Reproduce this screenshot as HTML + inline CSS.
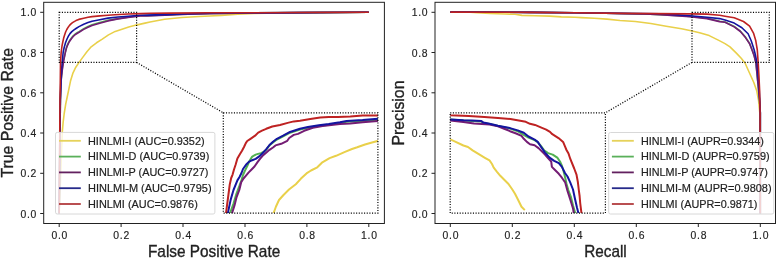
<!DOCTYPE html>
<html><head><meta charset="utf-8"><style>
html,body{margin:0;padding:0;background:#fff;width:778px;height:260px;overflow:hidden}
svg{display:block;will-change:transform}
text{font-family:"Liberation Sans", sans-serif;fill:#222}
</style></head><body>
<svg width="778" height="260" viewBox="0 0 778 260">
<rect width="778" height="260" fill="#fff"/>
<defs>
<clipPath id="cL"><rect x="43.7" y="2.3" width="340.7" height="221.2"/></clipPath>
<clipPath id="cR"><rect x="435" y="2.3" width="340.5" height="221.2"/></clipPath>
<clipPath id="ciL"><rect x="223.3" y="112.8" width="154.6" height="100.3"/></clipPath>
<clipPath id="ciR"><rect x="450.2" y="112.8" width="155.2" height="100.3"/></clipPath>
</defs>

<g clip-path="url(#cL)">
<path d="M59.2 213.5 L59.7 200.0 L60.2 188.0 L60.8 172.0 L61.5 152.0 L62.0 140.0 L62.3 131.9 L63.1 122.7 L64.2 113.5 L65.7 104.2 L67.2 97.0 L68.9 88.8 L70.5 81.1 L72.8 73.4 L75.8 67.2 L78.9 62.6 L83.1 56.9 L87.1 51.5 L91.2 46.8 L96.5 42.8 L101.9 39.4 L108.5 34.9 L115.2 31.4 L122.0 29.2 L128.7 27.1 L136.1 25.1 L145.0 23.1 L150.0 22.0 L164.6 19.2 L182.0 17.5 L199.3 16.5 L210.0 16.0 L221.4 15.4 L237.8 14.3 L254.2 13.5 L280.0 13.0 L320.0 12.6 L368.8 12.3" fill="none" stroke="#E9D04A" stroke-width="1.60" stroke-linejoin="round" stroke-linecap="butt" />
<path d="M59.2 213.5 L59.5 180.0 L59.9 140.0 L60.4 100.0 L61.1 80.0 L62.1 70.0 L63.2 61.8 L64.6 55.8 L65.4 51.8 L66.4 47.8 L67.5 44.7 L69.3 41.0 L71.4 38.0 L73.2 35.8 L75.2 34.0 L77.0 32.8 L79.1 31.6 L83.7 28.7 L88.0 26.5 L92.0 24.8 L99.7 22.5 L108.0 20.4 L118.0 18.6 L128.0 17.2 L140.0 15.8 L147.0 15.6 L165.0 14.9 L188.0 14.0 L210.0 13.4 L250.0 12.9 L300.0 12.6 L368.8 12.3" fill="none" stroke="#52B152" stroke-width="1.60" stroke-linejoin="round" stroke-linecap="butt" />
<path d="M59.2 213.5 L59.5 180.0 L59.9 140.0 L60.4 100.0 L61.2 80.0 L62.3 70.0 L63.5 61.8 L64.6 56.1 L65.4 52.2 L66.4 48.3 L67.5 45.3 L69.3 41.7 L71.4 38.7 L73.2 36.5 L75.2 34.7 L77.0 33.5 L79.1 32.3 L83.7 29.4 L88.0 27.2 L92.0 25.5 L99.7 23.2 L108.0 20.9 L118.0 18.9 L128.0 17.4 L140.0 16.0 L147.0 15.9 L165.0 15.2 L188.0 14.2 L210.0 13.6 L250.0 13.0 L300.0 12.6 L368.8 12.3" fill="none" stroke="#741C74" stroke-width="1.60" stroke-linejoin="round" stroke-linecap="butt" />
<path d="M59.2 213.5 L59.5 180.0 L59.8 140.0 L60.3 100.0 L60.9 80.0 L61.6 70.0 L62.2 61.8 L63.2 52.0 L64.3 47.0 L65.6 42.5 L67.0 39.0 L68.4 36.2 L70.0 33.6 L71.8 31.6 L74.0 29.8 L76.0 28.5 L79.0 26.6 L83.7 24.3 L88.0 22.6 L92.0 21.2 L99.7 19.7 L108.0 18.1 L118.0 17.0 L128.0 16.2 L140.0 15.3 L147.0 15.1 L165.0 14.6 L188.0 13.8 L210.0 13.3 L250.0 12.9 L300.0 12.6 L368.8 12.3" fill="none" stroke="#1414A0" stroke-width="1.60" stroke-linejoin="round" stroke-linecap="butt" />
<path d="M59.2 213.5 L59.4 180.0 L59.7 140.0 L60.0 100.0 L60.3 80.0 L60.5 62.0 L61.2 52.0 L62.0 46.0 L62.8 42.0 L63.6 38.3 L64.6 35.0 L65.6 32.0 L66.8 29.5 L68.2 27.2 L69.5 25.4 L71.0 23.9 L72.5 22.7 L74.2 21.6 L76.0 20.6 L78.8 19.4 L83.7 18.2 L88.0 17.3 L92.0 16.6 L100.0 15.9 L108.0 15.2 L115.0 14.7 L128.0 14.0 L140.0 13.6 L150.0 13.3 L170.0 13.1 L210.0 12.8 L250.0 12.7 L300.0 12.5 L368.8 12.3" fill="none" stroke="#BE2222" stroke-width="1.60" stroke-linejoin="round" stroke-linecap="butt" />
</g>
<rect x="43.7" y="2.3" width="340.7" height="221.2" fill="none" stroke="#222" stroke-width="1"/>
<line x1="40.2" y1="12.3" x2="43.7" y2="12.3" stroke="#222" stroke-width="1"/>
<text x="37.1" y="16.4" font-size="10.4" text-anchor="end" letter-spacing="0.75" stroke="#222" stroke-width="0.15">1.0</text>
<line x1="40.2" y1="52.5" x2="43.7" y2="52.5" stroke="#222" stroke-width="1"/>
<text x="37.1" y="56.6" font-size="10.4" text-anchor="end" letter-spacing="0.75" stroke="#222" stroke-width="0.15">0.8</text>
<line x1="40.2" y1="92.8" x2="43.7" y2="92.8" stroke="#222" stroke-width="1"/>
<text x="37.1" y="96.9" font-size="10.4" text-anchor="end" letter-spacing="0.75" stroke="#222" stroke-width="0.15">0.6</text>
<line x1="40.2" y1="133.0" x2="43.7" y2="133.0" stroke="#222" stroke-width="1"/>
<text x="37.1" y="137.1" font-size="10.4" text-anchor="end" letter-spacing="0.75" stroke="#222" stroke-width="0.15">0.4</text>
<line x1="40.2" y1="173.3" x2="43.7" y2="173.3" stroke="#222" stroke-width="1"/>
<text x="37.1" y="177.4" font-size="10.4" text-anchor="end" letter-spacing="0.75" stroke="#222" stroke-width="0.15">0.2</text>
<line x1="40.2" y1="213.5" x2="43.7" y2="213.5" stroke="#222" stroke-width="1"/>
<text x="37.1" y="217.6" font-size="10.4" text-anchor="end" letter-spacing="0.75" stroke="#222" stroke-width="0.15">0.0</text>
<line x1="59.2" y1="223.5" x2="59.2" y2="227" stroke="#222" stroke-width="1"/>
<text x="59.8" y="239.2" font-size="10.4" text-anchor="middle" letter-spacing="0.75" stroke="#222" stroke-width="0.15">0.0</text>
<line x1="121.1" y1="223.5" x2="121.1" y2="227" stroke="#222" stroke-width="1"/>
<text x="121.7" y="239.2" font-size="10.4" text-anchor="middle" letter-spacing="0.75" stroke="#222" stroke-width="0.15">0.2</text>
<line x1="183.0" y1="223.5" x2="183.0" y2="227" stroke="#222" stroke-width="1"/>
<text x="183.6" y="239.2" font-size="10.4" text-anchor="middle" letter-spacing="0.75" stroke="#222" stroke-width="0.15">0.4</text>
<line x1="245.0" y1="223.5" x2="245.0" y2="227" stroke="#222" stroke-width="1"/>
<text x="245.6" y="239.2" font-size="10.4" text-anchor="middle" letter-spacing="0.75" stroke="#222" stroke-width="0.15">0.6</text>
<line x1="306.9" y1="223.5" x2="306.9" y2="227" stroke="#222" stroke-width="1"/>
<text x="307.5" y="239.2" font-size="10.4" text-anchor="middle" letter-spacing="0.75" stroke="#222" stroke-width="0.15">0.8</text>
<line x1="368.8" y1="223.5" x2="368.8" y2="227" stroke="#222" stroke-width="1"/>
<text x="369.4" y="239.2" font-size="10.4" text-anchor="middle" letter-spacing="0.75" stroke="#222" stroke-width="0.15">1.0</text>
<g clip-path="url(#cR)">
<path d="M450.3 12.2 L470.0 12.3 L477.0 12.6 L490.0 13.5 L505.0 14.0 L515.0 14.3 L521.9 15.4 L535.0 15.8 L549.7 16.1 L561.3 16.9 L575.0 17.3 L581.4 17.6 L594.3 18.2 L607.1 19.1 L620.0 20.5 L635.4 21.5 L650.8 23.5 L666.2 26.2 L681.5 28.8 L691.0 30.8 L699.6 32.7 L709.2 35.6 L718.8 40.4 L725.0 43.6 L730.0 46.9 L736.6 53.4 L741.0 58.0 L745.0 63.0 L749.5 73.0 L753.8 82.5 L756.8 91.0 L758.5 100.0 L759.8 112.9 L760.2 213.5" fill="none" stroke="#E9D04A" stroke-width="1.60" stroke-linejoin="round" stroke-linecap="butt" />
<path d="M450.3 12.1 L530.0 12.4 L575.0 12.8 L620.0 13.5 L645.0 13.9 L660.0 14.6 L675.0 15.4 L690.0 16.4 L707.0 18.3 L719.6 21.2 L725.0 22.0 L734.2 26.5 L740.4 31.2 L745.0 36.5 L749.6 43.4 L752.2 50.0 L754.0 55.0 L756.0 63.0 L758.2 86.0 L759.5 100.0 L760.3 112.9 L760.3 213.5" fill="none" stroke="#52B152" stroke-width="1.60" stroke-linejoin="round" stroke-linecap="butt" />
<path d="M450.3 12.1 L530.0 12.4 L575.0 12.8 L620.0 13.5 L645.0 14.0 L660.0 14.8 L675.0 15.6 L690.0 16.7 L707.0 18.6 L719.6 21.6 L725.0 22.3 L734.2 26.9 L740.4 31.5 L745.0 36.9 L749.6 43.8 L752.2 50.5 L754.2 56.0 L755.9 63.1 L758.2 86.0 L759.5 100.0 L760.3 112.9 L760.3 213.5" fill="none" stroke="#741C74" stroke-width="1.60" stroke-linejoin="round" stroke-linecap="butt" />
<path d="M450.3 12.1 L530.0 12.4 L575.0 12.8 L620.0 13.4 L660.0 13.8 L675.0 14.6 L690.0 15.8 L707.0 17.2 L719.6 18.6 L725.0 20.0 L734.2 23.1 L741.9 27.7 L748.1 33.8 L751.2 40.8 L754.2 50.0 L755.4 55.0 L757.1 63.7 L758.5 81.0 L759.2 89.7 L760.0 105.0 L760.3 112.9 L760.3 213.5" fill="none" stroke="#1414A0" stroke-width="1.60" stroke-linejoin="round" stroke-linecap="butt" />
<path d="M450.3 12.1 L530.0 12.4 L575.0 12.8 L620.0 13.4 L690.0 13.9 L707.0 14.1 L719.6 15.2 L725.0 16.2 L734.2 17.7 L743.5 21.5 L749.6 26.2 L753.5 33.1 L755.8 40.8 L757.3 50.0 L758.2 63.1 L758.9 75.0 L759.6 90.0 L760.1 113.0 L760.3 213.5" fill="none" stroke="#BE2222" stroke-width="1.60" stroke-linejoin="round" stroke-linecap="butt" />
</g>
<rect x="435.0" y="2.3" width="340.5" height="221.2" fill="none" stroke="#222" stroke-width="1"/>
<line x1="431.5" y1="12.3" x2="435.0" y2="12.3" stroke="#222" stroke-width="1"/>
<text x="428.4" y="16.4" font-size="10.4" text-anchor="end" letter-spacing="0.75" stroke="#222" stroke-width="0.15">1.0</text>
<line x1="431.5" y1="52.5" x2="435.0" y2="52.5" stroke="#222" stroke-width="1"/>
<text x="428.4" y="56.6" font-size="10.4" text-anchor="end" letter-spacing="0.75" stroke="#222" stroke-width="0.15">0.8</text>
<line x1="431.5" y1="92.8" x2="435.0" y2="92.8" stroke="#222" stroke-width="1"/>
<text x="428.4" y="96.9" font-size="10.4" text-anchor="end" letter-spacing="0.75" stroke="#222" stroke-width="0.15">0.6</text>
<line x1="431.5" y1="133.0" x2="435.0" y2="133.0" stroke="#222" stroke-width="1"/>
<text x="428.4" y="137.1" font-size="10.4" text-anchor="end" letter-spacing="0.75" stroke="#222" stroke-width="0.15">0.4</text>
<line x1="431.5" y1="173.3" x2="435.0" y2="173.3" stroke="#222" stroke-width="1"/>
<text x="428.4" y="177.4" font-size="10.4" text-anchor="end" letter-spacing="0.75" stroke="#222" stroke-width="0.15">0.2</text>
<line x1="431.5" y1="213.5" x2="435.0" y2="213.5" stroke="#222" stroke-width="1"/>
<text x="428.4" y="217.6" font-size="10.4" text-anchor="end" letter-spacing="0.75" stroke="#222" stroke-width="0.15">0.0</text>
<line x1="450.3" y1="223.5" x2="450.3" y2="227" stroke="#222" stroke-width="1"/>
<text x="450.9" y="239.2" font-size="10.4" text-anchor="middle" letter-spacing="0.75" stroke="#222" stroke-width="0.15">0.0</text>
<line x1="512.3" y1="223.5" x2="512.3" y2="227" stroke="#222" stroke-width="1"/>
<text x="512.9" y="239.2" font-size="10.4" text-anchor="middle" letter-spacing="0.75" stroke="#222" stroke-width="0.15">0.2</text>
<line x1="574.3" y1="223.5" x2="574.3" y2="227" stroke="#222" stroke-width="1"/>
<text x="574.9" y="239.2" font-size="10.4" text-anchor="middle" letter-spacing="0.75" stroke="#222" stroke-width="0.15">0.4</text>
<line x1="636.3" y1="223.5" x2="636.3" y2="227" stroke="#222" stroke-width="1"/>
<text x="636.9" y="239.2" font-size="10.4" text-anchor="middle" letter-spacing="0.75" stroke="#222" stroke-width="0.15">0.6</text>
<line x1="698.3" y1="223.5" x2="698.3" y2="227" stroke="#222" stroke-width="1"/>
<text x="698.9" y="239.2" font-size="10.4" text-anchor="middle" letter-spacing="0.75" stroke="#222" stroke-width="0.15">0.8</text>
<line x1="760.3" y1="223.5" x2="760.3" y2="227" stroke="#222" stroke-width="1"/>
<text x="760.9" y="239.2" font-size="10.4" text-anchor="middle" letter-spacing="0.75" stroke="#222" stroke-width="0.15">1.0</text>
<text x="148.0" y="256.5" font-size="16.6" textLength="132.2" lengthAdjust="spacingAndGlyphs" stroke="#222" stroke-width="0.35">False Positive Rate</text>
<text x="584.2" y="256.6" font-size="16.6" textLength="42.5" lengthAdjust="spacingAndGlyphs" stroke="#222" stroke-width="0.35">Recall</text>
<text transform="translate(12.5,177.6) rotate(-90)" font-size="16.6" textLength="129.6" lengthAdjust="spacingAndGlyphs" stroke="#222" stroke-width="0.35">True Positive Rate</text>
<text transform="translate(403.5,145.4) rotate(-90)" font-size="16.6" textLength="64.8" lengthAdjust="spacingAndGlyphs" stroke="#222" stroke-width="0.35">Precision</text>
<rect x="59.2" y="12.3" width="77.4" height="50.1" fill="none" stroke="#000" stroke-width="1.2" stroke-dasharray="1.1 1.55"/>
<line x1="136.6" y1="62.4" x2="223.3" y2="112.8" stroke="#000" stroke-width="1.2" stroke-dasharray="1.1 1.55"/>
<rect x="692.0" y="12.3" width="77.3" height="50.1" fill="none" stroke="#000" stroke-width="1.2" stroke-dasharray="1.1 1.55"/>
<line x1="692.0" y1="62.4" x2="605.4" y2="112.8" stroke="#000" stroke-width="1.2" stroke-dasharray="1.1 1.55"/>
<rect x="223.3" y="112.8" width="154.6" height="100.3" fill="#fff"/>
<g clip-path="url(#ciL)">
<path d="M273.5 213.3 L276.0 206.5 L279.0 200.0 L283.5 195.0 L289.0 189.5 L295.8 184.2 L301.0 178.6 L306.5 173.4 L311.0 170.5 L317.3 167.3 L321.9 162.7 L329.6 158.1 L336.0 155.8 L345.0 151.9 L352.0 149.0 L357.2 147.3 L365.0 144.5 L372.0 142.5 L379.0 140.6" fill="none" stroke="#E9D04A" stroke-width="2.00" stroke-linejoin="round" stroke-linecap="butt" />
<path d="M230.0 213.3 L233.5 203.5 L236.4 193.8 L239.3 186.2 L241.5 180.0 L243.0 175.0 L245.0 170.5 L247.5 165.5 L249.3 161.3 L250.5 159.3 L252.2 156.6 L255.7 154.6 L258.0 153.9 L261.0 153.2 L263.0 152.2 L266.1 150.0 L269.5 145.3 L273.0 142.4 L276.9 139.5 L283.1 136.3 L289.2 133.0 L295.4 131.0 L300.0 129.5 L307.9 127.8 L318.9 126.0 L328.8 124.8 L339.9 123.0 L346.6 121.8 L362.6 121.0 L378.0 119.8" fill="none" stroke="#52B152" stroke-width="2.00" stroke-linejoin="round" stroke-linecap="butt" />
<path d="M232.0 213.3 L234.5 205.4 L236.4 197.7 L239.3 190.0 L241.2 182.3 L243.5 178.5 L246.0 175.6 L248.5 172.6 L251.1 170.0 L254.5 166.5 L257.7 161.9 L260.0 158.8 L262.6 155.8 L266.1 152.7 L269.5 149.8 L273.0 147.5 L275.5 145.4 L281.2 143.8 L287.3 140.8 L289.2 138.0 L293.8 134.9 L298.0 133.9 L304.2 130.8 L312.8 127.7 L322.6 125.9 L339.9 124.0 L350.3 123.4 L362.6 122.2 L378.0 120.9" fill="none" stroke="#741C74" stroke-width="2.00" stroke-linejoin="round" stroke-linecap="butt" />
<path d="M227.8 213.3 L230.7 199.6 L233.5 190.0 L237.4 180.4 L239.5 177.0 L241.5 173.0 L243.0 169.0 L246.5 164.2 L248.8 161.9 L252.2 160.2 L255.7 158.9 L259.2 156.4 L262.6 153.2 L266.1 149.4 L269.5 145.0 L273.0 141.7 L276.9 138.8 L283.1 135.7 L289.2 132.3 L295.4 130.3 L300.0 128.8 L307.9 127.1 L318.9 125.2 L328.8 124.0 L339.9 122.2 L346.6 120.9 L362.6 120.1 L378.0 118.8" fill="none" stroke="#1414A0" stroke-width="2.00" stroke-linejoin="round" stroke-linecap="butt" />
<path d="M226.0 213.3 L227.2 204.0 L228.4 195.0 L229.8 184.2 L231.2 178.0 L232.6 174.6 L234.0 169.5 L235.5 165.0 L237.4 158.5 L240.0 154.0 L242.0 150.8 L244.0 147.0 L245.8 143.1 L247.2 141.0 L250.5 138.8 L255.1 135.7 L258.2 132.6 L262.0 130.6 L266.2 128.8 L272.3 126.5 L280.0 125.0 L287.7 122.9 L293.8 121.4 L300.0 120.7 L310.3 119.1 L320.2 117.6 L328.8 116.9 L338.0 116.9 L350.3 116.4 L362.6 115.6 L378.0 115.4" fill="none" stroke="#BE2222" stroke-width="2.00" stroke-linejoin="round" stroke-linecap="butt" />
</g>
<rect x="450.2" y="112.8" width="155.2" height="100.3" fill="#fff"/>
<g clip-path="url(#ciR)">
<path d="M449.0 138.8 L450.3 139.3 L455.7 141.9 L463.4 145.5 L468.0 147.0 L472.6 150.4 L478.8 154.2 L484.9 157.8 L489.5 160.4 L492.0 164.0 L493.7 167.6 L497.0 171.8 L500.3 175.8 L504.5 180.0 L508.5 184.0 L512.0 189.0 L515.0 193.7 L518.3 200.3 L521.5 206.8 L524.8 210.1" fill="none" stroke="#E9D04A" stroke-width="2.00" stroke-linejoin="round" stroke-linecap="butt" />
<path d="M449.0 119.5 L450.3 119.6 L463.6 120.6 L472.0 120.9 L481.3 121.4 L483.3 122.9 L489.6 124.1 L498.0 126.0 L510.0 128.6 L517.7 131.2 L522.3 134.2 L525.4 135.8 L528.5 137.6 L534.6 140.2 L537.7 142.2 L540.5 145.3 L544.0 150.2 L548.1 153.1 L552.7 154.6 L557.3 157.7 L560.0 161.5 L562.0 166.0 L563.5 171.0 L564.8 176.0 L566.5 183.8 L568.3 190.0 L570.8 196.5 L573.1 205.8 L575.4 213.5" fill="none" stroke="#52B152" stroke-width="2.00" stroke-linejoin="round" stroke-linecap="butt" />
<path d="M449.0 120.4 L450.3 120.5 L463.4 122.0 L474.0 123.6 L489.6 124.6 L498.0 126.3 L504.2 128.8 L510.0 131.2 L516.2 133.5 L521.5 135.8 L523.8 138.8 L526.9 141.9 L530.0 144.2 L534.6 145.3 L538.5 148.1 L542.3 151.9 L545.0 154.6 L548.0 158.0 L551.2 161.5 L551.9 166.9 L555.0 170.0 L558.8 173.8 L561.9 177.7 L565.2 182.5 L567.5 191.0 L570.8 201.2 L573.1 208.8 L573.8 213.5" fill="none" stroke="#741C74" stroke-width="2.00" stroke-linejoin="round" stroke-linecap="butt" />
<path d="M449.0 119.3 L450.3 119.4 L463.6 120.3 L472.0 120.6 L481.3 121.0 L483.3 122.6 L489.6 123.8 L498.0 125.7 L510.0 128.1 L517.7 130.4 L523.8 132.7 L528.5 136.5 L534.6 139.6 L537.7 141.9 L540.8 146.5 L545.0 152.6 L549.6 157.7 L554.2 160.8 L558.8 163.1 L561.9 166.9 L565.0 173.0 L567.5 176.5 L570.2 182.3 L573.0 189.5 L574.8 198.0 L576.9 207.3 L578.5 213.5" fill="none" stroke="#1414A0" stroke-width="2.00" stroke-linejoin="round" stroke-linecap="butt" />
<path d="M449.0 115.1 L450.3 115.2 L468.8 116.1 L484.4 117.1 L498.0 117.9 L510.4 119.1 L525.8 121.8 L530.0 123.8 L535.0 124.9 L540.8 127.3 L546.2 129.6 L550.0 131.9 L552.3 134.2 L558.5 138.1 L563.1 141.9 L565.4 147.3 L566.5 150.0 L568.5 153.5 L570.4 159.2 L574.2 168.5 L576.5 174.6 L577.9 182.3 L578.8 190.0 L579.6 196.0 L580.2 203.0 L581.5 213.5" fill="none" stroke="#BE2222" stroke-width="2.00" stroke-linejoin="round" stroke-linecap="butt" />
</g>
<rect x="223.3" y="112.8" width="154.6" height="100.3" fill="none" stroke="#000" stroke-width="1.2" stroke-dasharray="1.1 1.55"/>
<rect x="450.2" y="112.8" width="155.2" height="100.3" fill="none" stroke="#000" stroke-width="1.2" stroke-dasharray="1.1 1.55"/>
<rect x="55.5" y="132.4" width="159.4" height="81.6" rx="1.8" fill="#fff" fill-opacity="0.8" stroke="#d8d8d8" stroke-width="1"/>
<line x1="59.0" y1="140.8" x2="80.8" y2="140.8" stroke="#E6D25A" stroke-width="1.8"/>
<text x="88.0" y="144.5" font-size="11.6" textLength="116.6" lengthAdjust="spacingAndGlyphs" stroke="#222" stroke-width="0.2">HINLMI-I (AUC=0.9352)</text>
<line x1="59.0" y1="156.6" x2="80.8" y2="156.6" stroke="#5AB05A" stroke-width="1.8"/>
<text x="88.0" y="160.3" font-size="11.6" textLength="121.3" lengthAdjust="spacingAndGlyphs" stroke="#222" stroke-width="0.2">HINLMI-D (AUC=0.9739)</text>
<line x1="59.0" y1="172.4" x2="80.8" y2="172.4" stroke="#62205F" stroke-width="1.8"/>
<text x="88.0" y="176.1" font-size="11.6" textLength="120.5" lengthAdjust="spacingAndGlyphs" stroke="#222" stroke-width="0.2">HINLMI-P (AUC=0.9727)</text>
<line x1="59.0" y1="188.2" x2="80.8" y2="188.2" stroke="#262A8A" stroke-width="1.8"/>
<text x="88.0" y="191.9" font-size="11.6" textLength="123.6" lengthAdjust="spacingAndGlyphs" stroke="#222" stroke-width="0.2">HINLMI-M (AUC=0.9795)</text>
<line x1="59.0" y1="204.0" x2="80.8" y2="204.0" stroke="#B23C3E" stroke-width="1.8"/>
<text x="88.0" y="207.7" font-size="11.6" textLength="109.8" lengthAdjust="spacingAndGlyphs" stroke="#222" stroke-width="0.2">HINLMI (AUC=0.9876)</text>
<rect x="608.7" y="132.5" width="165.1" height="81.5" rx="1.8" fill="#fff" fill-opacity="0.8" stroke="#d8d8d8" stroke-width="1"/>
<line x1="611.9" y1="140.8" x2="633.8" y2="140.8" stroke="#E6D25A" stroke-width="1.8"/>
<text x="640.9" y="144.5" font-size="11.6" textLength="123.0" lengthAdjust="spacingAndGlyphs" stroke="#222" stroke-width="0.2">HINLMI-I (AUPR=0.9344)</text>
<line x1="611.9" y1="156.6" x2="633.8" y2="156.6" stroke="#5AB05A" stroke-width="1.8"/>
<text x="640.9" y="160.3" font-size="11.6" textLength="128.7" lengthAdjust="spacingAndGlyphs" stroke="#222" stroke-width="0.2">HINLMI-D (AUPR=0.9759)</text>
<line x1="611.9" y1="172.4" x2="633.8" y2="172.4" stroke="#62205F" stroke-width="1.8"/>
<text x="640.9" y="176.1" font-size="11.6" textLength="126.9" lengthAdjust="spacingAndGlyphs" stroke="#222" stroke-width="0.2">HINLMI-P (AUPR=0.9747)</text>
<line x1="611.9" y1="188.2" x2="633.8" y2="188.2" stroke="#262A8A" stroke-width="1.8"/>
<text x="640.9" y="191.9" font-size="11.6" textLength="130.7" lengthAdjust="spacingAndGlyphs" stroke="#222" stroke-width="0.2">HINLMI-M (AUPR=0.9808)</text>
<line x1="611.9" y1="204.0" x2="633.8" y2="204.0" stroke="#B23C3E" stroke-width="1.8"/>
<text x="640.9" y="207.7" font-size="11.6" textLength="116.5" lengthAdjust="spacingAndGlyphs" stroke="#222" stroke-width="0.2">HINLMI (AUPR=0.9871)</text>
</svg></body></html>
